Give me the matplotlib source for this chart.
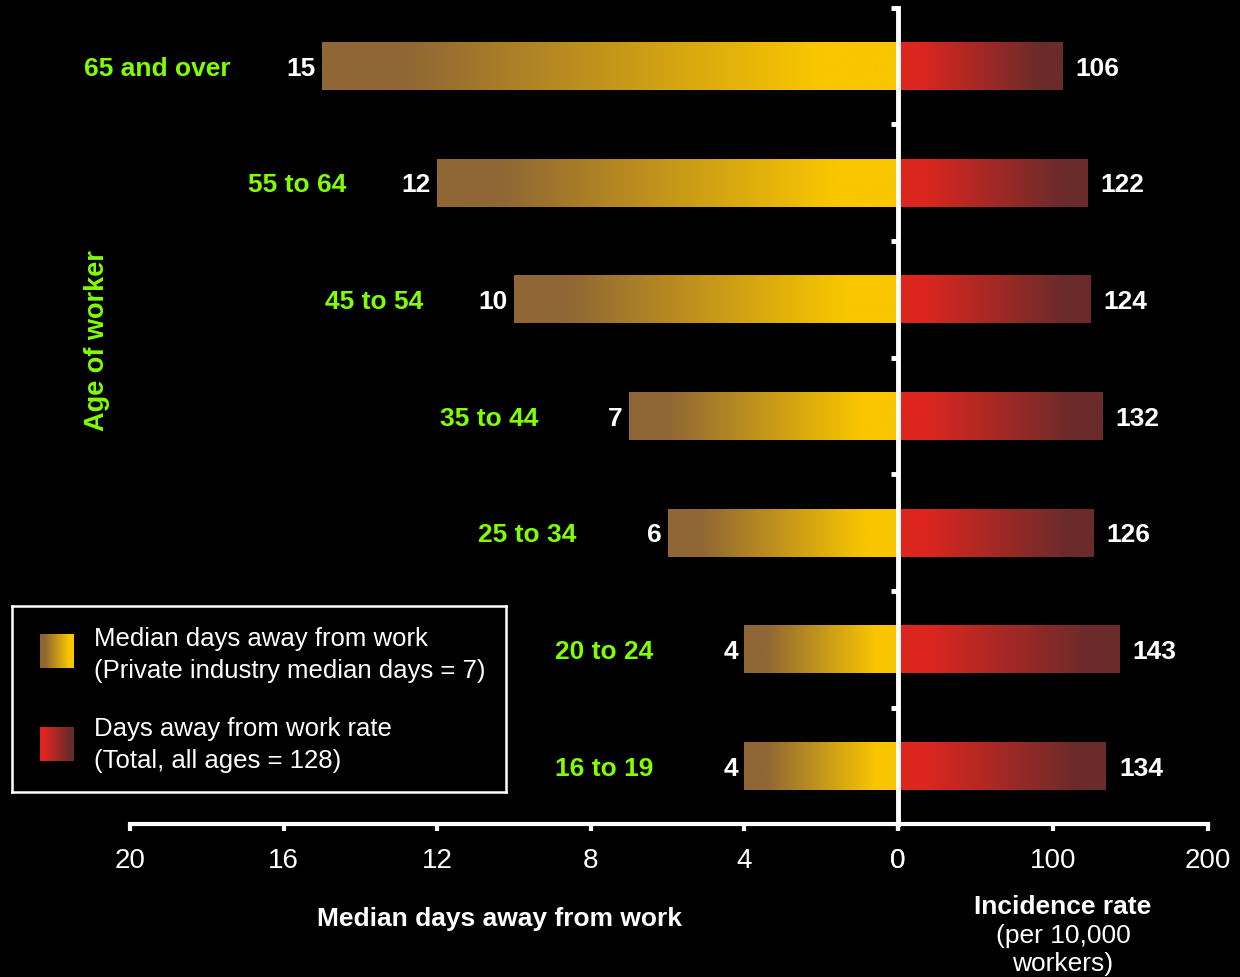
import numpy as np
import matplotlib
matplotlib.use('Agg')
import matplotlib.pyplot as plt
from matplotlib.colors import LinearSegmentedColormap

# chart data
ages = ['16 to 19', '20 to 24', '25 to 34', '35 to 44', '45 to 54', '55 to 64', '65 and over']
median_days = [4, 4, 6, 7, 10, 12, 15]
incidence_rate = [134, 143, 126, 132, 124, 122, 106]
days_ticks = [20, 16, 12, 8, 4, 0]
rate_ticks = [0, 100, 200]

# colours
GREEN = '#80FF00'
gold_cmap = LinearSegmentedColormap.from_list(
    'gold', [(0, '#8F6635'), (0.14, '#8F6635'), (0.86, '#F9C600'), (1, '#F9C600')])
red_cmap = LinearSegmentedColormap.from_list(
    'red', [(0, '#DC261F'), (0.14, '#DC261F'), (0.86, '#6B2B2B'), (1, '#6B2B2B')])
grad = np.linspace(0, 1, 256).reshape(1, -1)

plt.rcParams['font.family'] = ['Liberation Sans', 'DejaVu Sans']
FS = 19
BAR_H = 0.41

fig = plt.figure(figsize=(12.4, 9.78), dpi=100, facecolor='black')
W, H = 1240.0, 978.0


def px_axes(x0, y0, x1, y1):
    # axes from pixel box (top-left origin)
    return fig.add_axes([x0 / W, 1 - y1 / H, (x1 - x0) / W, (y1 - y0) / H])


ax_l = px_axes(130, 8.7, 898, 825.3)
ax_r = px_axes(898, 8.7, 1208, 825.3)
ypos = np.arange(len(ages))

# left panel: median days
for y, v in zip(ypos, median_days):
    ax_l.imshow(grad, cmap=gold_cmap, aspect='auto', interpolation='bicubic',
                extent=[v, 0, y - BAR_H / 2, y + BAR_H / 2], zorder=1)
    ax_l.annotate(str(v), (v, y), xytext=(-4.5, -1.2), textcoords='offset points',
                  ha='right', va='center', color='white', fontsize=FS, fontweight='bold')
    ax_l.annotate(ages[y], (v, y), xytext=(-65.5, -1.2), textcoords='offset points',
                  ha='right', va='center', color=GREEN, fontsize=FS, fontweight='bold')

# right panel: incidence rate
for y, v in zip(ypos, incidence_rate):
    ax_r.imshow(grad, cmap=red_cmap, aspect='auto', interpolation='bicubic',
                extent=[0, v, y - BAR_H / 2, y + BAR_H / 2], zorder=1)
    ax_r.annotate(str(v), (v, y), xytext=(9.5, -1.2), textcoords='offset points',
                  ha='left', va='center', color='white', fontsize=FS, fontweight='bold')

ax_l.set_xlim(20, 0)
ax_r.set_xlim(0, 200)
for ax in (ax_l, ax_r):
    ax.set_ylim(-0.5, 6.5)
    ax.set_facecolor('black')
    for s in ax.spines.values():
        s.set_visible(False)
    ax.spines['bottom'].set_visible(True)
    ax.spines['bottom'].set_color('white')
    ax.spines['bottom'].set_linewidth(3)
    ax.tick_params(axis='x', colors='white', direction='out', length=5, width=3,
                   labelsize=20, pad=11)
    ax.set_yticks([])

ax_l.set_xticks(days_ticks)
ax_r.set_xticks(rate_ticks)

# centre line with category ticks
ax_r.spines['left'].set_visible(True)
ax_r.spines['left'].set_color('white')
ax_r.spines['left'].set_linewidth(3.5)
ax_r.spines['left'].set_zorder(5)
ax_r.set_yticks(ypos + 0.5)
ax_r.set_yticklabels([])
ax_r.tick_params(axis='y', colors='white', direction='out', length=5, width=3.5)

# axis titles
fig.text(500 / W, 1 - 919 / H, 'Median days away from work', ha='center', va='center',
         color='white', fontsize=FS, fontweight='bold')
fig.text(1063 / W, 1 - 907 / H, 'Incidence rate', ha='center', va='center',
         color='white', fontsize=FS, fontweight='bold')
fig.text(1063 / W, 1 - 950 / H, '(per 10,000\nworkers)', ha='center', va='center',
         color='white', fontsize=FS, linespacing=1.25)
fig.text(97 / W, 1 - 341 / H, 'Age of worker', rotation=90, ha='center', va='center',
         color=GREEN, fontsize=19.5, fontweight='bold')

# legend box
lg = px_axes(12, 607, 506, 793)
lg.set_facecolor('black')
lg.set_xticks([])
lg.set_yticks([])
for s in lg.spines.values():
    s.set_color('white')
    s.set_linewidth(1.8)
lg.imshow(grad, cmap=gold_cmap, aspect='auto', extent=[28, 62, 62, 28])
lg.imshow(grad, cmap=red_cmap, aspect='auto', extent=[28, 62, 155, 121])
lg.set_xlim(0, 494)
lg.set_ylim(186, 0)
lg.text(82, 48, 'Median days away from work\n(Private industry median days = 7)',
        ha='left', va='center', color='white', fontsize=18.5, linespacing=1.42)
lg.text(82, 138, 'Days away from work rate\n(Total, all ages = 128)',
        ha='left', va='center', color='white', fontsize=18.5, linespacing=1.42)

fig.savefig('out.png', dpi=100, facecolor='black')
